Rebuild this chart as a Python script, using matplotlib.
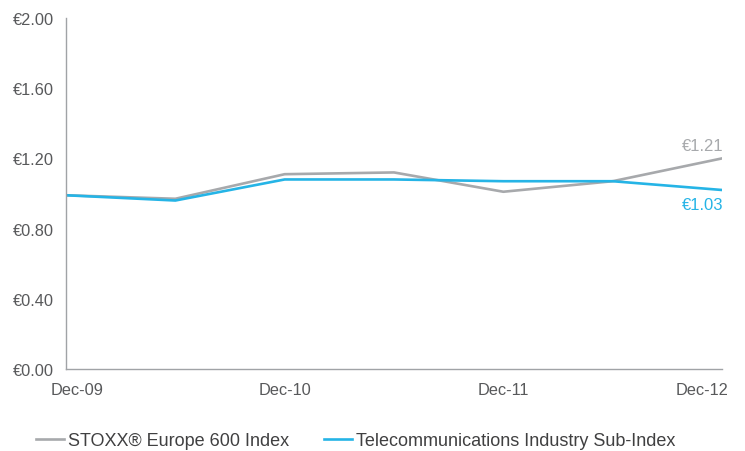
from matplotlib import pyplot as plt
from matplotlib.transforms import ScaledTranslation

plt.rcParams['font.family'] = ['Liberation Sans', 'DejaVu Sans']

periods = ['Dec-09', '', 'Dec-10', '', 'Dec-11', '', 'Dec-12']
stoxx = [0.99, 0.97, 1.11, 1.12, 1.01, 1.07, 1.20]
telecom = [0.99, 0.96, 1.08, 1.08, 1.07, 1.07, 1.02]
y_ticks = [0.0, 0.4, 0.8, 1.2, 1.6, 2.0]
end_labels = ['€1.21', '€1.03']

grey = '#a7a9ac'
blue = '#25b4e6'
text_col = '#58595b'

fig = plt.figure(figsize=(7.45, 4.52), dpi=100)
ax = fig.add_axes([66/745, 1 - 370/452, (722 - 66)/745, (370 - 19)/452])

x = list(range(len(periods)))
ax.plot(x, stoxx, color=grey, lw=1.9, label='STOXX® Europe 600 Index', solid_joinstyle='miter')
ax.plot(x, telecom, color=blue, lw=1.9, label='Telecommunications Industry Sub-Index', solid_joinstyle='miter')

ax.set_xlim(0, len(periods) - 1)
ax.set_ylim(0, 2.0)
ax.set_yticks(y_ticks)
ax.set_yticklabels(['€%.2f' % v for v in y_ticks])
ax.set_xticks([0, 2, 4, 6])
ax.set_xticklabels([p for p in periods if p])
ax.tick_params(length=0, labelsize=11.8, colors=text_col)
ax.tick_params(axis='y', pad=8.5)
ax.tick_params(axis='x', pad=9.5)

for s in ['top', 'right']:
    ax.spines[s].set_visible(False)
for s in ['left', 'bottom']:
    ax.spines[s].set_color('#a0a3a6')
    ax.spines[s].set_linewidth(1.0)

# shift the end labels inward like the original
labs = ax.get_xticklabels()
labs[0].set_transform(labs[0].get_transform() + ScaledTranslation(11/100, 0, fig.dpi_scale_trans))
labs[-1].set_transform(labs[-1].get_transform() + ScaledTranslation(-20/100, 0, fig.dpi_scale_trans))

# end value labels
ax.annotate(end_labels[0], (x[-1], stoxx[-1]), xytext=(1, 4), textcoords='offset points',
            ha='right', va='bottom', color=grey, fontsize=12)
ax.annotate(end_labels[1], (x[-1], telecom[-1]), xytext=(1, -5), textcoords='offset points',
            ha='right', va='top', color=blue, fontsize=12)

leg = fig.legend(loc='center left', bbox_to_anchor=(36/745, 1 - 442/452), ncol=2, frameon=False,
                 fontsize=13, handlelength=1.55, handletextpad=0.25, columnspacing=1.9, borderpad=0,
                 borderaxespad=0)
for t in leg.get_texts():
    t.set_color('#404041')

fig.savefig('out.png', dpi=100)
